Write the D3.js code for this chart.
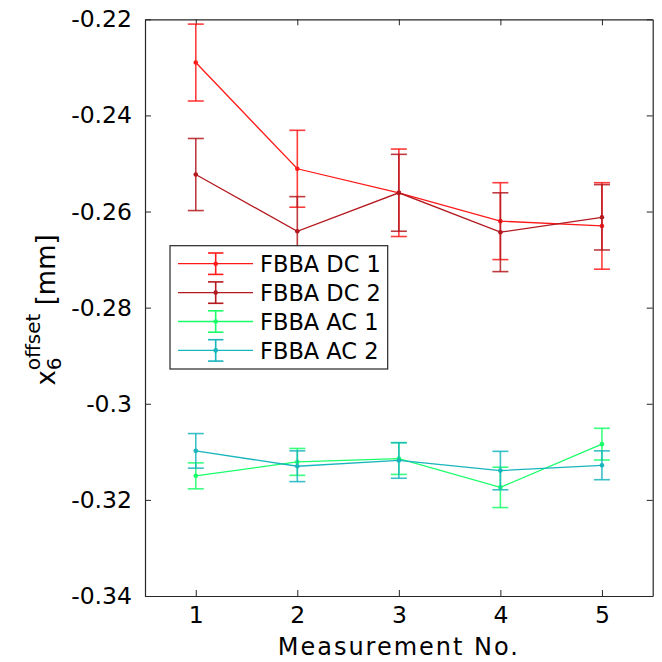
<!DOCTYPE html>
<html>
<head>
<meta charset="utf-8">
<script src="https://cdn.jsdelivr.net/npm/d3@7"></script>
<style>
body { margin: 0; background: #fff; }
text { font-family: "DejaVu Sans", sans-serif; fill: #000; }
</style>
</head>
<body>
<div id="graph"></div>
<script>
// values
var measurement = [1, 2, 3, 4, 5];
var seriesNames = ["FBBA DC 1", "FBBA DC 2", "FBBA AC 1", "FBBA AC 2"];
var dc1 = [-0.2290, -0.2511, -0.2561, -0.2620, -0.2630];
var dc1Err = [0.0080, 0.0080, 0.0091, 0.0080, 0.0090];
var dc2 = [-0.2523, -0.2641, -0.2561, -0.2643, -0.2612];
var dc2Err = [0.0075, 0.0072, 0.0080, 0.0082, 0.0068];
var ac1 = [-0.3150, -0.3121, -0.3114, -0.3174, -0.3084];
var ac1Err = [0.0027, 0.0028, 0.0033, 0.0042, 0.0033];
var ac2 = [-0.3098, -0.3130, -0.3118, -0.3139, -0.3128];
var ac2Err = [0.0036, 0.0032, 0.0037, 0.0040, 0.0030];
var yTicks = [-0.34, -0.32, -0.3, -0.28, -0.26, -0.24, -0.22];
var yTickLabels = ["-0.34", "-0.32", "-0.3", "-0.28", "-0.26", "-0.24", "-0.22"];
var colors = ["#ff1a1a", "#b3191f", "#19ff6a", "#18b5bd"];

var series = [
	{name: seriesNames[0], values: dc1, err: dc1Err, color: colors[0]},
	{name: seriesNames[1], values: dc2, err: dc2Err, color: colors[1]},
	{name: seriesNames[2], values: ac1, err: ac1Err, color: colors[2]},
	{name: seriesNames[3], values: ac2, err: ac2Err, color: colors[3]}
];

var W = 662, H = 662;
// plot box (window.top is reserved, so use other names)
var pLeft = 145, pRight = 652.7, pTop = 19.3, pBottom = 596;

var svg = d3.select("#graph").append("svg")
	.attr("width", W).attr("height", H);

var x = d3.scaleLinear().domain([0.5, 5.5]).range([pLeft, pRight]);
var y = d3.scaleLinear().domain([-0.34, -0.22]).range([pBottom, pTop]);

var axisColor = "#262626";

function styleAxis(g) {
	g.select(".domain").attr("stroke", axisColor).attr("stroke-width", 1.2);
	g.selectAll(".tick line").attr("stroke", axisColor).attr("stroke-width", 1);
	g.selectAll("text").attr("fill", "#000").attr("font-family", "DejaVu Sans, sans-serif");
}

// axes with inward ticks on all four sides
var tickFmtY = function(d) { return yTickLabels[yTicks.indexOf(d)]; };
svg.append("g").attr("transform", "translate(" + pLeft + ",0)")
	.call(d3.axisLeft(y).tickValues(yTicks).tickSize(-6).tickSizeOuter(0).tickPadding(13).tickFormat(tickFmtY))
	.call(styleAxis)
	.selectAll("text").attr("font-size", 23.5);
svg.append("g").attr("transform", "translate(" + pRight + ",0)")
	.call(d3.axisRight(y).tickValues(yTicks).tickSize(-6).tickSizeOuter(0).tickFormat(""))
	.call(styleAxis);
svg.append("g").attr("transform", "translate(0," + pBottom + ")")
	.call(d3.axisBottom(x).tickValues(measurement).tickSize(-6).tickSizeOuter(0).tickPadding(10).tickFormat(d3.format("d")))
	.call(styleAxis)
	.selectAll("text").attr("font-size", 23.5);
svg.append("g").attr("transform", "translate(0," + pTop + ")")
	.call(d3.axisTop(x).tickValues(measurement).tickSize(-6).tickSizeOuter(0).tickFormat(""))
	.call(styleAxis);

// data
var line = d3.line()
	.x(function(d, i) { return x(measurement[i]); })
	.y(function(d) { return y(d); });

var capW = 8;
var groups = svg.selectAll("g.series")
	.data(series)
	.enter()
	.append("g")
	.attr("class", "series");

groups.each(function(s) {
	var g = d3.select(this);
	var pts = s.values.map(function(v, i) { return {x: measurement[i], v: v, e: s.err[i]}; });
	var bars = g.selectAll("g.bar").data(pts).enter().append("g").attr("class", "bar")
		.attr("stroke", s.color).attr("stroke-width", 1.6).attr("stroke-opacity", 0.85);
	bars.append("line")
		.attr("x1", function(d) { return x(d.x); }).attr("x2", function(d) { return x(d.x); })
		.attr("y1", function(d) { return y(d.v + d.e); }).attr("y2", function(d) { return y(d.v - d.e); });
	bars.append("line")
		.attr("x1", function(d) { return x(d.x) - capW; }).attr("x2", function(d) { return x(d.x) + capW; })
		.attr("y1", function(d) { return y(d.v + d.e); }).attr("y2", function(d) { return y(d.v + d.e); });
	bars.append("line")
		.attr("x1", function(d) { return x(d.x) - capW; }).attr("x2", function(d) { return x(d.x) + capW; })
		.attr("y1", function(d) { return y(d.v - d.e); }).attr("y2", function(d) { return y(d.v - d.e); });
	g.append("path")
		.attr("d", line(s.values))
		.attr("fill", "none")
		.attr("stroke", s.color)
		.attr("stroke-width", 1.3);
	g.selectAll("circle").data(pts).enter().append("circle")
		.attr("cx", function(d) { return x(d.x); })
		.attr("cy", function(d) { return y(d.v); })
		.attr("r", 2.3)
		.attr("fill", s.color);
});

// legend
var lg = svg.append("g").attr("transform", "translate(170,245.7)");
lg.append("rect")
	.attr("width", 217.7).attr("height", 123.3)
	.attr("fill", "#fff").attr("stroke", axisColor).attr("stroke-width", 1.2);
var rows = lg.selectAll("g.row").data(series).enter().append("g").attr("class", "row")
	.attr("transform", function(d, i) { return "translate(0," + (18 + i * 28.9) + ")"; });
rows.append("line").attr("x1", 8).attr("x2", 83).attr("y1", 0).attr("y2", 0)
	.attr("stroke", function(d) { return d.color; }).attr("stroke-width", 1.3);
rows.append("line").attr("x1", 45.7).attr("x2", 45.7).attr("y1", -10.7).attr("y2", 10.7)
	.attr("stroke", function(d) { return d.color; }).attr("stroke-width", 1.6);
rows.append("line").attr("x1", 38).attr("x2", 53.4).attr("y1", -10.7).attr("y2", -10.7)
	.attr("stroke", function(d) { return d.color; }).attr("stroke-width", 1.6);
rows.append("line").attr("x1", 38).attr("x2", 53.4).attr("y1", 10.7).attr("y2", 10.7)
	.attr("stroke", function(d) { return d.color; }).attr("stroke-width", 1.6);
rows.append("circle").attr("cx", 45.7).attr("cy", 0).attr("r", 2.3)
	.attr("fill", function(d) { return d.color; });
rows.append("text").attr("x", 90).attr("y", 0).attr("dy", "0.36em")
	.attr("font-size", 22.5)
	.text(function(d) { return d.name; });

// axis labels
svg.append("text")
	.attr("x", (pLeft + pRight) / 2).attr("y", 655)
	.attr("text-anchor", "middle")
	.attr("font-size", 24).attr("letter-spacing", 2)
	.text("Measurement No.");

var yl = svg.append("text")
	.attr("transform", "translate(55,310) rotate(-90)")
	.attr("text-anchor", "middle")
	.attr("font-size", 26);
yl.append("tspan").text("x");
yl.append("tspan").attr("font-size", 20).attr("dy", 6).text("6");
yl.append("tspan").attr("font-size", 20).attr("dx", -12.7).attr("dy", -21).text("offset");
yl.append("tspan").attr("dy", 15).text(" [mm]");
</script>
</body>
</html>
